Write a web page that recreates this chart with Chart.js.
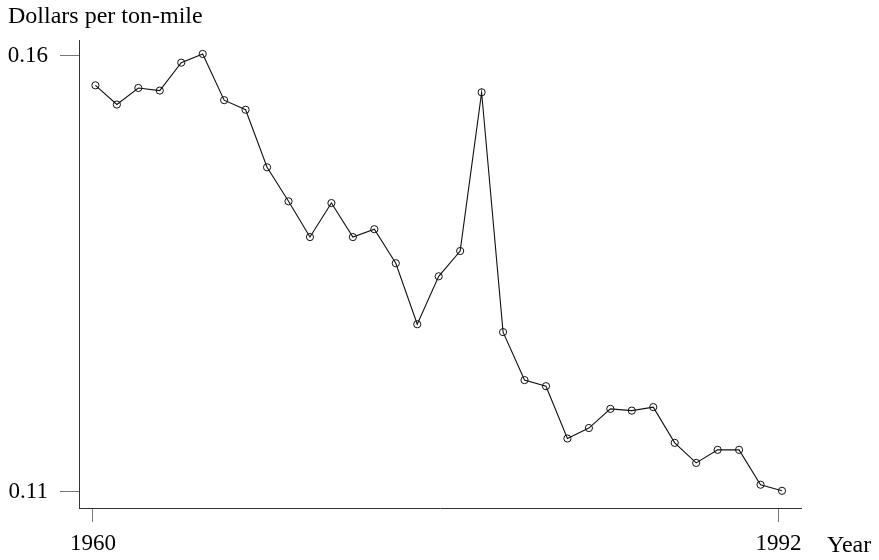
<!DOCTYPE html>
<html><head><meta charset="utf-8">
<script src="https://cdn.jsdelivr.net/npm/chart.js@4"></script>
<style>html,body{margin:0;padding:0;background:#fff}#c{display:block}</style>
</head><body>
<canvas id="c" width="879" height="560"></canvas>
<script>
const years = [1960,1961,1962,1963,1964,1965,1966,1967,1968,1969,1970,1971,1972,1973,1974,1975,1976,1977,1978,1979,1980,1981,1982,1983,1984,1985,1986,1987,1988,1989,1990,1991,1992];
const cost = [0.1566,0.1544,0.1563,0.1560,0.1592,0.1602,0.1549,0.1538,0.1472,0.1433,0.1392,0.1431,0.1392,0.1401,0.1362,0.1292,0.1347,0.1376,0.1558,0.1283,0.1228,0.1221,0.1161,0.1173,0.1195,0.1193,0.1197,0.1156,0.1133,0.1148,0.1148,0.1108,0.1101];
const yTicks = [0.11, 0.16];
const xTicks = [1960, 1992];
const yTitle = "Dollars per ton-mile";
const xTitle = "Year";

const FONT = "'Liberation Serif', 'Times New Roman', serif";
const textPlugin = {
  id: 'texts',
  afterDraw(chart) {
    const ctx = chart.ctx;
    ctx.save();
    ctx.fillStyle = '#000';
    ctx.font = '24px ' + FONT;
    ctx.textBaseline = 'alphabetic';
    ctx.textAlign = 'left';
    ctx.fillText(yTitle, 8, 23);
    ctx.font = '24px ' + FONT;
    ctx.textAlign = 'left';
    ctx.fillText(xTitle, 827, 552);
    ctx.restore();
  }
};

new Chart(document.getElementById('c'), {
  type: 'line',
  data: {
    datasets: [{
      xAxisID: 'xd',
      data: years.map((y, i) => ({x: y, y: cost[i]})),
      borderColor: '#111',
      borderWidth: 1.1,
      pointRadius: 3.6,
      pointBorderWidth: 1,
      pointBorderColor: '#111',
      pointBackgroundColor: 'rgba(255,255,255,0)',
      tension: 0
    }]
  },
  options: {
    responsive: false,
    animation: false,
    devicePixelRatio: 1,
    layout: {padding: {top: 40, right: 78, left: 0, bottom: 0}},
    plugins: {legend: {display: false}, tooltip: {enabled: false}, title: {display: false}},
    scales: {
      xd: {
        type: 'linear',
        display: false,
        min: 1959.235,
        max: 1992.886
      },
      x: {
        type: 'linear',
        position: 'bottom',
        min: 1959.35,
        max: 1993.05,
        afterBuildTicks: s => { s.ticks = xTicks.map(v => ({value: v})); },
        afterFit: s => { s.height = 52; },
        ticks: {font: {family: FONT, size: 23}, color: '#000', padding: 8, maxRotation: 0, autoSkip: false,
                callback: v => String(v)},
        grid: {drawOnChartArea: false, drawTicks: true, tickLength: 14, color: '#777', tickWidth: 1},
        border: {display: true, color: '#333', width: 1}
      },
      y: {
        type: 'linear',
        min: 0.10813,
        max: 0.1618,
        afterBuildTicks: s => { s.ticks = yTicks.map(v => ({value: v})); },
        afterFit: s => { s.width = 79; },
        ticks: {font: {family: FONT, size: 23}, color: '#000', padding: 12, autoSkip: false,
                callback: v => v.toFixed(2)},
        grid: {drawOnChartArea: false, drawTicks: true, tickLength: 19, color: '#777', tickWidth: 1},
        border: {display: true, color: '#333', width: 1}
      }
    }
  },
  plugins: [textPlugin]
});
</script>
</body></html>
